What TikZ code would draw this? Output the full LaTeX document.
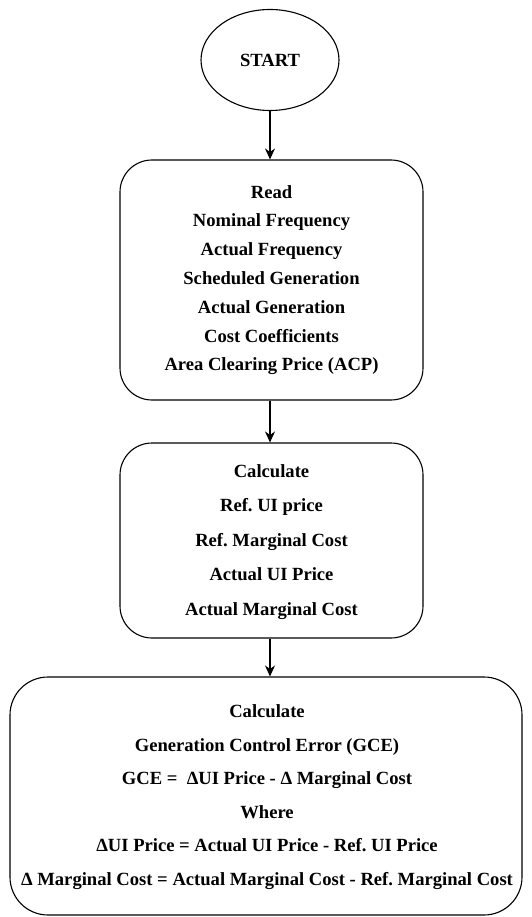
\documentclass[tikz,border=0pt]{standalone}
\usepackage{fontspec}
\setmainfont{Liberation Serif}
\frenchspacing
\usetikzlibrary{arrows.meta,shapes.geometric}
\begin{document}
\begin{tikzpicture}[x=1pt,y=-1pt,
  every node/.style={font=\fontsize{18.6}{21}\selectfont\bfseries},
  stepbox/.style={draw,line width=1.1pt,rounded corners=32pt,align=center,inner sep=0pt},
  flow/.style={draw,line width=1.1pt,-{Stealth[length=11pt,width=10pt]}}]
\useasboundingbox (0,0) rectangle (532,917);
\node[draw,ellipse,line width=1.1pt,minimum width=138pt,minimum height=101pt,inner sep=0pt] (start) at (270,60) {START};
\node[stepbox,minimum width=303pt,minimum height=240pt] (read) at (271.5,280) {};
\node[align=center,font=\fontsize{18.6}{28.8}\selectfont\bfseries] (readtxt) at (271.5,280) {Read\\Nominal Frequency\\Actual Frequency\\Scheduled Generation\\Actual Generation\\Cost Coefficients\\Area Clearing Price (ACP)};
\node[stepbox,minimum width=303pt,minimum height=195pt] (calc1) at (271.5,540.5) {};
\node[align=center,font=\fontsize{18.6}{34.5}\selectfont\bfseries] (calc1txt) at (271.5,542) {Calculate\\Ref. UI price\\Ref. Marginal Cost\\Actual UI Price\\Actual Marginal Cost};
\node[stepbox,rounded corners=38pt,minimum width=512pt,minimum height=238pt] (calc2) at (266,796) {};
\node[align=center,font=\fontsize{18.6}{33.6}\selectfont\bfseries] (calc2txt) at (267,797) {Calculate\\Generation Control Error (GCE)\\GCE =\ \ ΔUI Price - Δ Marginal Cost\\Where\\ΔUI Price = Actual UI Price - Ref. UI Price\\Δ Marginal Cost = Actual Marginal Cost - Ref. Marginal Cost};
\draw[flow] (start.south) -- (start.south |- read.north);
\draw[flow] (read.south -| start.south) -- (start.south |- calc1.north);
\draw[flow] (calc1.south -| start.south) -- (start.south |- calc2.north);
\end{tikzpicture}
\end{document}
